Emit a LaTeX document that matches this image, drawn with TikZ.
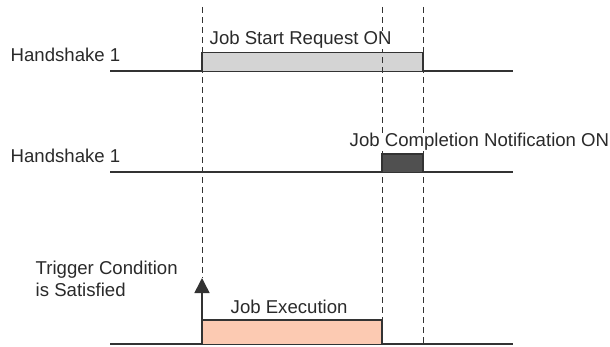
\documentclass[tikz,border=0pt]{standalone}
\usepackage{fontspec}
\setmainfont{Liberation Sans}
\usetikzlibrary{arrows.meta}
\definecolor{linec}{HTML}{333333}
\definecolor{textc}{HTML}{2A2A2A}
\definecolor{reqfill}{HTML}{D4D4D4}
\definecolor{compfill}{HTML}{505050}
\definecolor{execfill}{HTML}{FCCAB2}
\begin{document}
\begin{tikzpicture}[x=1pt,y=-1pt,
  lbl/.style={font=\fontsize{18.6}{22}\selectfont, text=textc, fill=white, inner sep=0.5pt, anchor=base west},
  baseln/.style={line width=1.8pt, draw=linec},
  boxs/.style={line width=1.3pt, draw=linec},
  guide/.style={dash pattern=on 6pt off 4pt, line width=0.9pt, draw=linec},
  trig/.style={line width=1.5pt, draw=linec, -{Triangle[length=15pt,width=15pt]}}]
\useasboundingbox (0,0) rectangle (610,347);
% coordinates
\coordinate (l1a) at (110,71);  \coordinate (l1b) at (513,71);
\coordinate (l2a) at (110,172); \coordinate (l2b) at (513,172);
\coordinate (l3a) at (110,344); \coordinate (l3b) at (513,344);
\coordinate (ga) at (202,7); \coordinate (gb) at (382,7); \coordinate (gc) at (423,7);
\coordinate (tip) at (202,278);
% baselines
\draw[baseln] (l1a) -- (l1b);
\draw[baseln] (l2a) -- (l2b);
\draw[baseln] (l3a) -- (l3b);
% boxes
\draw[boxs, fill=reqfill] (202,71) -- (202,52.5) -- (423,52.5) -- (423,71);
\draw[boxs, fill=compfill] (382,172) -- (382,154) -- (423,154) -- (423,172);
\draw[boxs, fill=execfill] (202,344) -- (202,320) -- (382,320) -- (382,344);
% guides
\draw[guide] (ga) -- (tip);
\draw[guide] (gb) -- (382,320);
\draw[guide] (gc) -- (423,344);
% trigger arrow
\draw[trig] (202,320) -- (tip);
% labels
\node[lbl] (hs1) at (10,62) {Handshake 1};
\node[lbl] (req) at (209,45) {Job Start Request ON};
\node[lbl] (hs2) at (10,163) {Handshake 1};
\node[lbl] (comp) at (349,147) {Job Completion Notification ON};
\node[lbl] (trg1) at (35,274) {Trigger Condition};
\node[lbl] (trg2) at (35,296) {is Satisfied};
\node[lbl] (exec) at (230,313) {Job Execution};
\end{tikzpicture}
\end{document}
